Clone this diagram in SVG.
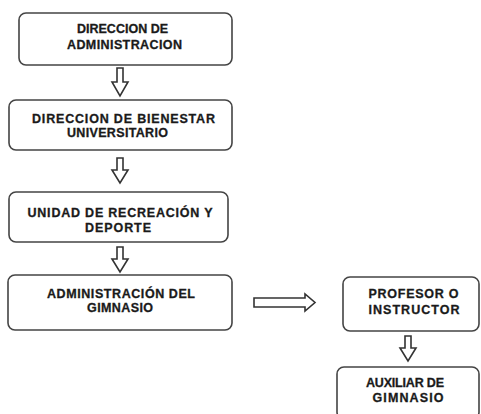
<svg xmlns="http://www.w3.org/2000/svg" width="481" height="414" viewBox="0 0 481 414">
<style>
.box{fill:#fff;stroke:#444;stroke-width:1.6}
.t{font-family:"Liberation Sans",Arial,sans-serif;font-weight:bold;font-size:12.5px;fill:#1a1a1a;text-anchor:middle;stroke:#1a1a1a;stroke-width:0.3}
.arr{fill:#fff;stroke:#333;stroke-width:1.6;stroke-linejoin:miter}
</style>
<rect width="481" height="414" fill="#fff"/>
<g id="n1"><rect class="box" x="19" y="13" width="213" height="52" rx="7"/>
<text class="t" x="122.5" y="33" textLength="91">DIRECCION DE</text>
<text class="t" x="124.5" y="49" textLength="115">ADMINISTRACION</text></g>
<g id="n2"><rect class="box" x="9" y="100" width="223" height="50" rx="7"/>
<text class="t" x="123.5" y="123" textLength="183">DIRECCION DE BIENESTAR</text>
<text class="t" x="117.5" y="136.5" textLength="101">UNIVERSITARIO</text></g>
<g id="n3"><rect class="box" x="9" y="192" width="219" height="50" rx="7"/>
<text class="t" x="120" y="217" textLength="185">UNIDAD DE RECREACIÓN Y</text>
<text class="t" x="118" y="232" textLength="66">DEPORTE</text></g>
<g id="n4"><rect class="box" x="8" y="275" width="224" height="55" rx="7"/>
<text class="t" x="121" y="298" textLength="148">ADMINISTRACIÓN DEL</text>
<text class="t" x="120" y="312" textLength="66">GIMNASIO</text></g>
<g id="n5"><rect class="box" x="343" y="277" width="136" height="54" rx="7"/>
<text class="t" x="413.5" y="298" textLength="90">PROFESOR O</text>
<text class="t" x="414" y="314" textLength="91">INSTRUCTOR</text></g>
<g id="n6"><rect class="box" x="337" y="367" width="142" height="52" rx="7"/>
<text class="t" x="405" y="387" textLength="78">AUXILIAR DE</text>
<text class="t" x="408" y="402" textLength="71">GIMNASIO</text></g>
<g id="connectors">
<path class="arr" d="M117 68 H123 V82 H128 L120 96 L112 82 H117 Z"/>
<path class="arr" d="M117 158 H123 V170 H128 L120 183 L112 170 H117 Z"/>
<path class="arr" d="M117 247 H123 V259 H128 L120 272 L112 259 H117 Z"/>
<path class="arr" d="M254 298 H305 V294 L315 302.5 L305 311 V307 H254 Z"/>
<path class="arr" d="M405 336 H411 V348 H416 L408 361 L400 348 H405 Z"/>
</g>
</svg>
